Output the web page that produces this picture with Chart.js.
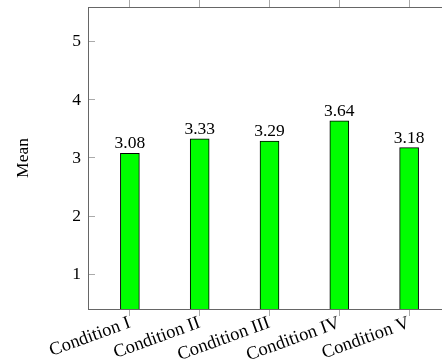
<!DOCTYPE html>
<html>
<head>
<meta charset="utf-8">
<script src="https://cdn.jsdelivr.net/npm/chart.js@4"></script>
<style>
  html, body { margin: 0; padding: 0; background: #fff; overflow: hidden; }
  #wrap { width: 442px; height: 362px; overflow: hidden; }
</style>
</head>
<body>
<div id="wrap"><canvas id="meanChart" width="452" height="362"></canvas></div>
<script>
const conditions = ['Condition I', 'Condition II', 'Condition III', 'Condition IV', 'Condition V'];
const positions = [1, 2, 3, 4, 5];
const means = [3.08, 3.33, 3.29, 3.64, 3.18];
const yTicks = [1, 2, 3, 4, 5];

const SERIF = "'Liberation Serif', 'Times New Roman', serif";

// value labels above the bars
const barValues = {
    id: 'barValues',
    afterDatasetsDraw(chart) {
        const ctx = chart.ctx;
        const meta = chart.getDatasetMeta(0);
        ctx.save();
        ctx.font = '17.5px ' + SERIF;
        ctx.fillStyle = '#000';
        ctx.textAlign = 'center';
        ctx.textBaseline = 'alphabetic';
        meta.data.forEach((bar, i) => {
            ctx.fillText(means[i].toFixed(2), bar.x, bar.y - 5);
        });
        ctx.restore();
    }
};

// no automatic label padding, the sizes are fixed by hand
function fixBox(s, size) {
    if (s.isHorizontal()) s.height = size; else s.width = size;
    s.paddingTop = 0;
    s.paddingBottom = 0;
    s.paddingLeft = 0;
    s.paddingRight = 0;
}

const config = {
    type: 'bar',
    data: {
        datasets: [{
            label: 'Mean',
            data: positions.map((x, i) => ({x: x, y: means[i]})),
            backgroundColor: '#00ff00',
            borderColor: '#000',
            borderWidth: 1,
            borderSkipped: 'bottom',
            barThickness: 19,
        }]
    },
    options: {
        responsive: false,
        animation: false,
        layout: {padding: {left: 0, right: 1, top: 0, bottom: 0}},
        plugins: {
            legend: {display: false},
            tooltip: {enabled: false},
        },
        scales: {
            x: {
                type: 'linear',
                position: 'bottom',
                offset: false,
                min: 0.4,
                max: 5.6,
                afterBuildTicks: (s) => { s.ticks = positions.map(v => ({value: v})); },
                afterFit: (s) => fixBox(s, 53),
                grid: {offset: false, drawOnChartArea: false, tickLength: 7, color: '#aaa'},
                border: {color: '#666', width: 1},
                ticks: {
                    minRotation: 20,
                    maxRotation: 20,
                    padding: -4,
                    color: '#000',
                    font: {size: 18.5, family: SERIF},
                    callback: (v) => conditions[positions.indexOf(v)],
                },
            },
            x2: {
                type: 'linear',
                position: 'top',
                offset: false,
                min: 0.4,
                max: 5.6,
                afterBuildTicks: (s) => { s.ticks = positions.map(v => ({value: v})); },
                afterFit: (s) => fixBox(s, 7),
                grid: {offset: false, drawOnChartArea: false, tickLength: 7, color: '#aaa'},
                border: {color: '#666', width: 1},
                ticks: {display: false},
            },
            y: {
                min: 0.4,
                max: 5.6,
                afterBuildTicks: (s) => { s.ticks = yTicks.map(v => ({value: v})); },
                afterFit: (s) => fixBox(s, 88),
                grid: {drawOnChartArea: false, tickLength: -7, color: '#aaa'},
                border: {color: '#666', width: 1},
                ticks: {
                    padding: 14,
                    color: '#000',
                    font: {size: 17.5, family: SERIF},
                },
                title: {
                    display: true,
                    text: 'Mean',
                    color: '#000',
                    padding: {top: 13, bottom: 0},
                    font: {size: 17.5, family: SERIF},
                },
            },
        },
    },
    plugins: [barValues],
};

const meanChart = new Chart(document.getElementById('meanChart'), config);
</script>
</body>
</html>
